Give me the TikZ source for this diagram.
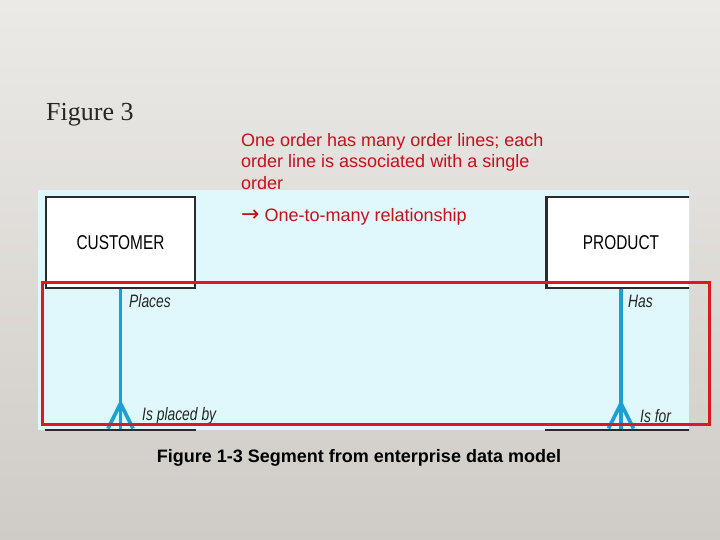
\documentclass[tikz,border=0pt]{standalone}
\usepackage{fontspec}
\setmainfont{Liberation Sans}
\newfontfamily\serifface{Liberation Serif}
\newfontfamily\narrowface[FakeStretch=0.77]{Liberation Sans}
\newfontfamily\arrowface{DejaVu Sans}
\usepackage{xcolor}
\usetikzlibrary{arrows.meta,positioning,calc}
\definecolor{slidetop}{HTML}{ECEAE7}
\definecolor{slidebot}{HTML}{CFCCC7}
\definecolor{panelblue}{HTML}{E0F7FC}
\definecolor{relblue}{HTML}{1AA0D4}
\definecolor{notered}{HTML}{C8101A}
\definecolor{framered}{HTML}{DC1A1E}
\definecolor{boxline}{HTML}{2A2A2A}

\begin{document}
\begin{tikzpicture}[x=1pt,y=-1pt,
  entity/.style={draw=boxline,line width=2.2pt,fill=white,minimum width=149pt,minimum height=91pt,
    font=\narrowface\fontsize{20}{22}\selectfont,inner sep=0pt},
  rel/.style={draw=relblue,line width=3.6pt},
  rolelabel/.style={font=\narrowface\itshape\fontsize{18}{20}\selectfont,text=black!85,anchor=west,inner sep=0pt},
  note/.style={font=\fontsize{18}{21.5}\selectfont,text=notered,anchor=north west,align=left,inner sep=0pt}]
  \useasboundingbox (0,0) rectangle (720,540);
  \shade[top color=slidetop,bottom color=slidebot] (0,0) rectangle (720,540);
  % title and note
  \node[font=\serifface\fontsize{26}{28}\selectfont,text=black!85,anchor=base west,inner sep=0pt] (title) at (46,121) {Figure 3};
  \node[note] (note) at (241,133) {One order has many order lines; each\\order line is associated with a single\\order};
  % diagram panel
  \fill[panelblue] (38,190) rectangle (689,430);
  \node[note,anchor=west] (kind) at (241,217) {{\arrowface\fontsize{22}{18}\selectfont →} One-to-many relationship};
  \begin{scope}
    \clip (38,190) rectangle (689,430);
    \node[entity] (customer) at (120.5,242.5) {CUSTOMER};
    \node[entity] (product) at (621,242.5) {PRODUCT};
    \node[entity,anchor=north] (custorder) at (120.5,428.5) {};
    \node[entity,anchor=north] (prodorder) at (621,428.5) {};
  \end{scope}
  % relationships with crow's feet
  \foreach \top/\bot in {customer/custorder,product/prodorder}{
    \draw[rel] (\top.south) -- (\bot.north);
    \foreach \dx in {-12.5,12.5}
      \draw[rel] ($(\bot.north)+(0,-25)$) -- ($(\bot.north)+(\dx,0)$);
  }
  \node[rolelabel] (places) at (129,301) {Places};
  \node[rolelabel] (placedby) at (142,416) {Is placed by};
  \node[rolelabel] (has) at (628,301) {Has};
  \node[rolelabel] (isfor) at (640,416) {Is for};
  % highlight frame
  \draw[draw=framered,line width=3pt] (42,282) rectangle (709,424);
  \node[font=\bfseries\fontsize{18}{20}\selectfont] (caption) at (359,458) {Figure 1-3 Segment from enterprise data model};
\end{tikzpicture}
\end{document}
